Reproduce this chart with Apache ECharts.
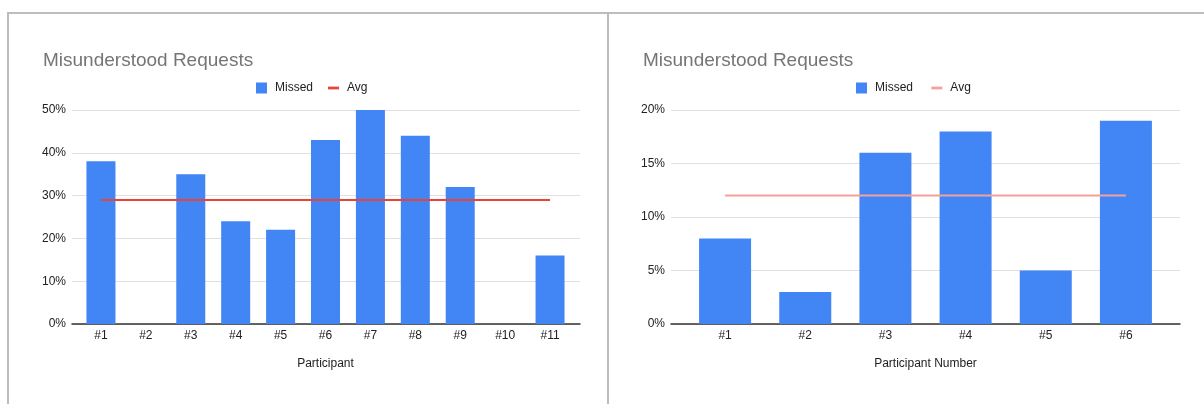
<!DOCTYPE html>
<html>
<head>
<meta charset="utf-8">
<style>
  html, body { margin: 0; padding: 0; background: #ffffff; }
  #chart { width: 1204px; height: 404px; }
</style>
<script src="https://cdn.jsdelivr.net/npm/echarts@6/dist/echarts.min.js"></script>
</head>
<body>
<div id="chart"></div>
<script>
// Left panel: share of misunderstood requests per participant
const participantsA = ['#1', '#2', '#3', '#4', '#5', '#6', '#7', '#8', '#9', '#10', '#11'];
const missedA = [38, 0, 35, 24, 22, 43, 50, 44, 32, 0, 16];
const avgA = 29;
const yMaxA = 50, yStepA = 10;

// Right panel: same measure for the second group
const participantsB = ['#1', '#2', '#3', '#4', '#5', '#6'];
const missedB = [8, 3, 16, 18, 5, 19];
const avgB = 12;
const yMaxB = 20, yStepB = 5;

const FONT = '"Liberation Sans", Arial, sans-serif';
const BLUE = '#4285f4';
const RED = '#ea4335';
const RED_SOFT = '#f4a19a';
const LINE_ICON = 'path://M0,0 L12,0 L12,3 L0,3 Z';

const chart = echarts.init(document.getElementById('chart'), null, { renderer: 'canvas' });

// Frame grid: carries the y ticks, gridlines and the baseline across the full plot width
function frameY(gridIndex, max, interval) {
  return {
    type: 'value', gridIndex, min: 0, max, interval,
    axisLabel: { formatter: '{value}%', color: '#222', fontSize: 12, fontFamily: FONT, margin: 6 },
    axisLine: { show: false }, axisTick: { show: false },
    splitLine: { lineStyle: { color: '#e0e0e0', width: 1 } }
  };
}
function frameX(gridIndex) {
  return {
    type: 'category', gridIndex, data: [''],
    axisLabel: { show: false }, axisTick: { show: false },
    axisLine: { lineStyle: { color: '#333', width: 1.5 } }
  };
}
// Data grid: slightly inset band where the participant categories live
function dataY(gridIndex, max, interval) {
  return {
    type: 'value', gridIndex, min: 0, max, interval,
    axisLabel: { show: false }, axisLine: { show: false },
    axisTick: { show: false }, splitLine: { show: false }
  };
}
function dataX(gridIndex, cats, name) {
  return {
    type: 'category', gridIndex, data: cats,
    name, nameLocation: 'middle', nameGap: 34,
    nameTextStyle: { color: '#222', fontSize: 12, fontFamily: FONT },
    axisLabel: { color: '#222', fontSize: 12, fontFamily: FONT, margin: 6 },
    axisLine: { show: false }, axisTick: { show: false }
  };
}
function legendAt(left, names) {
  return {
    left, top: 82, padding: 0, itemWidth: 11, itemHeight: 11, itemGap: 15,
    textStyle: { color: '#222', fontSize: 12, fontFamily: FONT, padding: [0, 0, 0, 3] },
    data: [{ name: names[0], icon: 'rect' }, { name: names[1], icon: LINE_ICON }]
  };
}
const titleStyle = { color: '#757575', fontSize: 19, fontWeight: 'normal', fontFamily: FONT };

chart.setOption({
  animation: false,
  textStyle: { fontFamily: FONT },
  title: [
    { text: 'Misunderstood Requests', left: 43, top: 51, padding: 0, textStyle: titleStyle },
    { text: 'Misunderstood Requests', left: 643, top: 51, padding: 0, textStyle: titleStyle }
  ],
  legend: [
    legendAt(256, ['Missed', 'Avg']),
    legendAt(856, ['Missed ', 'Avg '])
  ],
  grid: [
    { left: 72, top: 110, width: 508, height: 214 },
    { left: 78.5, top: 110, width: 494, height: 214 },
    { left: 671, top: 110, width: 509, height: 214 },
    { left: 685, top: 110, width: 481, height: 214 }
  ],
  xAxis: [
    frameX(0),
    dataX(1, participantsA, 'Participant'),
    frameX(2),
    dataX(3, participantsB, 'Participant Number')
  ],
  yAxis: [
    frameY(0, yMaxA, yStepA),
    dataY(1, yMaxA, yStepA),
    frameY(2, yMaxB, yStepB),
    dataY(3, yMaxB, yStepB)
  ],
  series: [
    { name: 'Missed', type: 'bar', xAxisIndex: 1, yAxisIndex: 1, data: missedA,
      barWidth: 29, itemStyle: { color: BLUE } },
    { name: 'Avg', type: 'line', xAxisIndex: 1, yAxisIndex: 1,
      data: participantsA.map(() => avgA), symbol: 'none',
      itemStyle: { color: RED }, lineStyle: { color: RED, width: 2 } },
    { name: 'Missed ', type: 'bar', xAxisIndex: 3, yAxisIndex: 3, data: missedB,
      barWidth: 52, itemStyle: { color: BLUE } },
    { name: 'Avg ', type: 'line', xAxisIndex: 3, yAxisIndex: 3,
      data: participantsB.map(() => avgB), symbol: 'none',
      itemStyle: { color: RED_SOFT }, lineStyle: { color: RED_SOFT, width: 2 } }
  ],
  graphic: [
    // panel frame: top edge, left edge and the divider between the two panels
    { type: 'rect', shape: { x: 7, y: 12, width: 1197, height: 2 }, style: { fill: '#bdbdbd' }, silent: true },
    { type: 'rect', shape: { x: 7, y: 12, width: 2, height: 392 }, style: { fill: '#bdbdbd' }, silent: true },
    { type: 'rect', shape: { x: 607, y: 12, width: 2, height: 392 }, style: { fill: '#bdbdbd' }, silent: true }
  ]
});
</script>
</body>
</html>
